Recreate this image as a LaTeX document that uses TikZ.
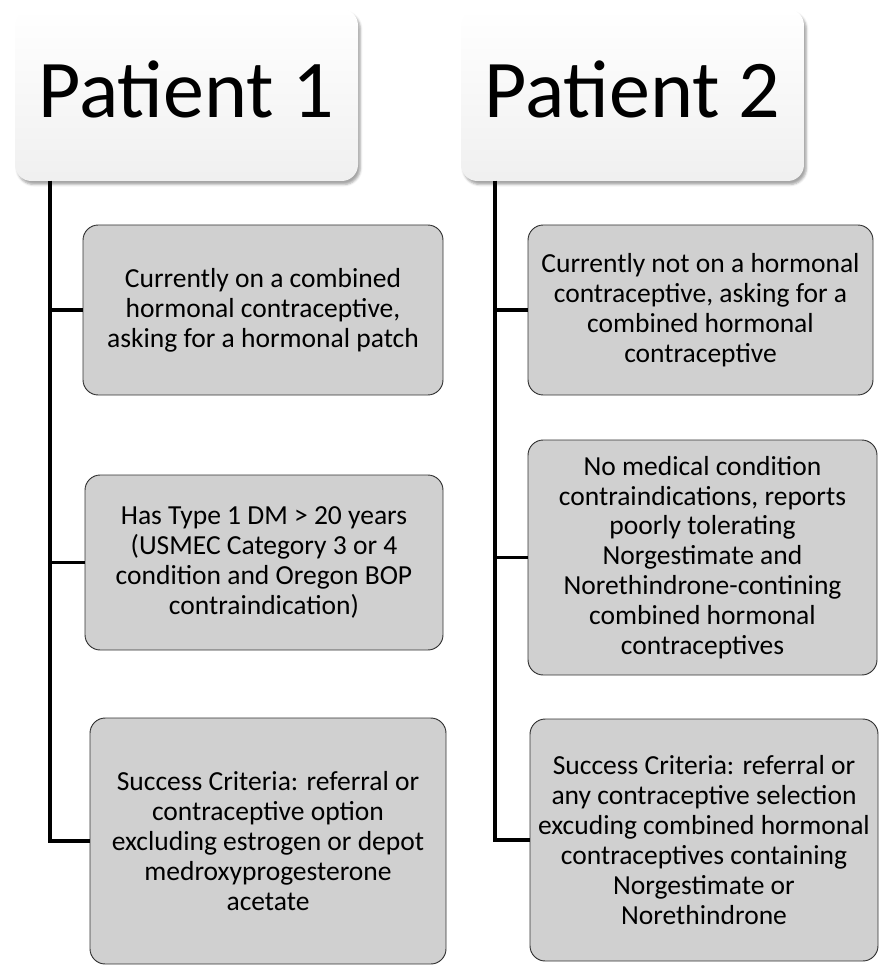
\documentclass[tikz,border=0pt]{standalone}
\usepackage{fontspec}
\setmainfont{Carlito}
\usetikzlibrary{positioning,shadows.blur}

\definecolor{boxgray}{RGB}{208,208,208}

\newcommand{\headtext}[1]{\raisebox{4.5pt}[\height][\depth]{#1}}

\tikzset{
  header/.style={rounded corners=14pt,minimum width=343*0.03cm,minimum height=172*0.03cm,
    top color=white,bottom color=gray!12,blur shadow={shadow xshift=2pt,shadow yshift=-3pt,shadow opacity=35},
    font=\fontsize{70}{80}\selectfont},
  item/.style={draw=black!80,thick,fill=boxgray,rounded corners=13pt,align=center,
    font=\fontsize{23.5}{25.5}\selectfont},
  link/.style={line width=2.8pt}
}

\begin{document}
\begin{tikzpicture}[x=0.03cm,y=-0.03cm]
  \useasboundingbox (0,0) rectangle (880,965);

  % Patient 1
  \node [header] (p1) at (186.5,95) {\headtext{Patient 1}};
  \coordinate (t1) at (50,181);

  \node [item,minimum width=360*0.03cm,minimum height=170*0.03cm] (a1) at (263,310)
    {Currently on a combined\\hormonal contraceptive,\\asking for a hormonal patch};
  \node [item,minimum width=358*0.03cm,minimum height=175*0.03cm] (a2) at (264,562.5)
    {Has Type 1 DM > 20 years\\(USMEC Category 3 or 4\\condition and Oregon BOP\\contraindication)};
  \node [item,minimum width=356*0.03cm,minimum height=246*0.03cm] (a3) at (268,841)
    {Success Criteria: referral or\\contraceptive option\\excluding estrogen or depot\\medroxyprogesterone\\acetate};

  \draw [link] (t1) |- (a1.west);
  \draw [link] (t1) |- (a2.west);
  \draw [link] (t1) |- (a3.west);

  % Patient 2
  \node [header] (p2) at (632.5,95) {\headtext{Patient 2}};
  \coordinate (t2) at (495,181);

  \node [item,minimum width=345*0.03cm,minimum height=170*0.03cm] (b1) at (700.5,310)
    {Currently not on a hormonal\\contraceptive, asking for a\\combined hormonal\\contraceptive};
  \node [item,minimum width=349*0.03cm,minimum height=235*0.03cm] (b2) at (702.5,557.5)
    {No medical condition\\contraindications, reports\\poorly tolerating\\Norgestimate and\\Norethindrone-contining\\combined hormonal\\contraceptives};
  \node [item,minimum width=348*0.03cm,minimum height=242*0.03cm] (b3) at (704,840)
    {Success Criteria: referral or\\any contraceptive selection\\excuding combined hormonal\\contraceptives containing\\Norgestimate or\\Norethindrone};

  \draw [link] (t2) |- (b1.west);
  \draw [link] (t2) |- (b2.west);
  \draw [link] (t2) |- (b3.west);

\end{tikzpicture}
\end{document}
